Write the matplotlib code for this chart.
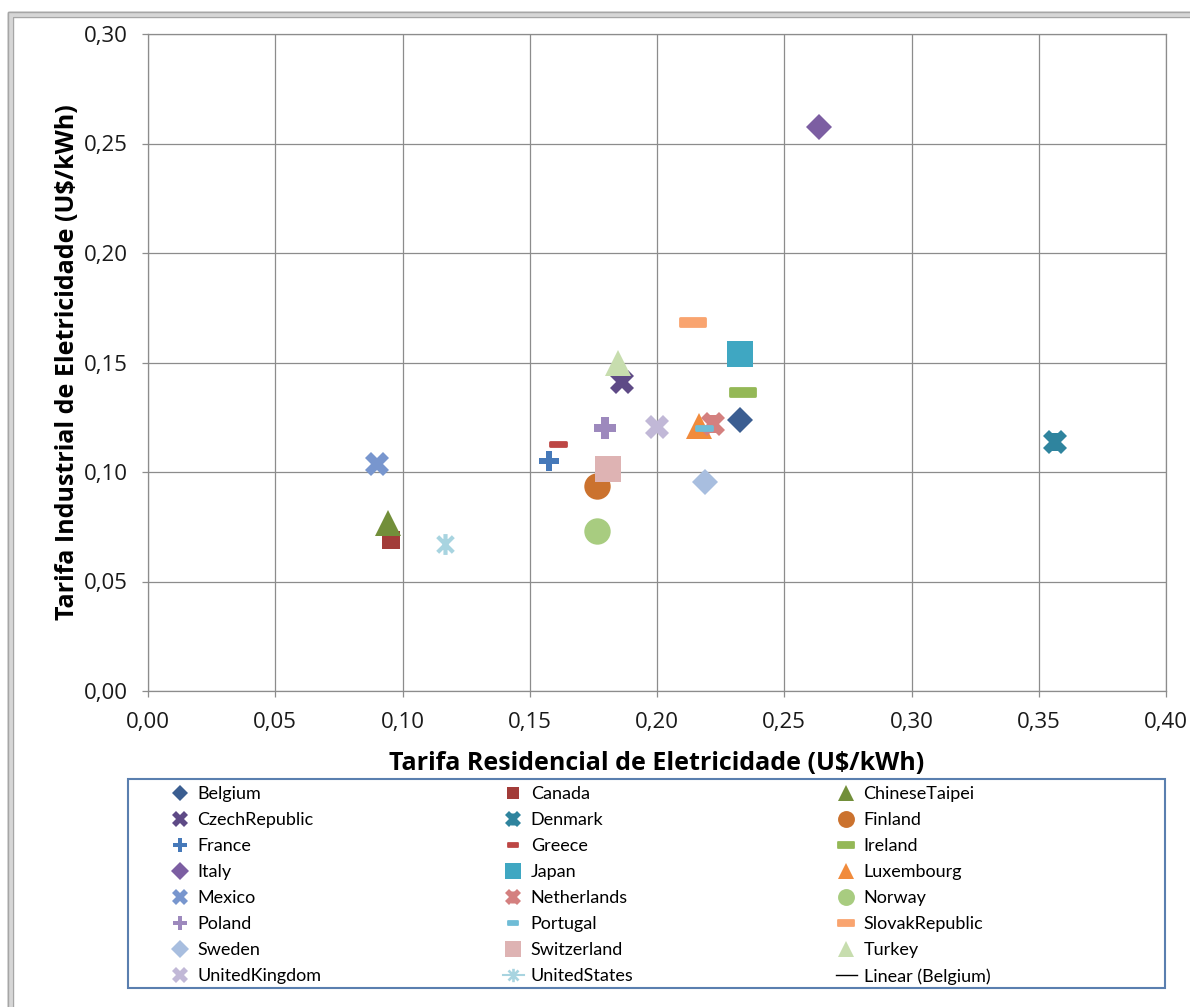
import matplotlib
matplotlib.use("Agg")
import matplotlib.pyplot as plt
from matplotlib.lines import Line2D
from matplotlib.patches import Rectangle
from matplotlib.path import Path

# tarifas por pais (residencial, industrial) em U$/kWh
countries = ["Belgium", "Canada", "ChineseTaipei", "CzechRepublic", "Denmark",
             "Finland", "France", "Greece", "Ireland", "Italy", "Japan",
             "Luxembourg", "Mexico", "Netherlands", "Norway", "Poland",
             "Portugal", "SlovakRepublic", "Sweden", "Switzerland", "Turkey",
             "UnitedKingdom", "UnitedStates"]
residencial = [0.2326, 0.0955, 0.0943, 0.1862, 0.3564, 0.1764, 0.1576, 0.1610,
               0.2334, 0.2637, 0.2326, 0.2165, 0.0900, 0.2220, 0.1764, 0.1796,
               0.2185, 0.2138, 0.2190, 0.1807, 0.1847, 0.2000, 0.1167]
industrial = [0.1237, 0.0690, 0.0767, 0.1410, 0.1137, 0.0936, 0.1050, 0.1130,
              0.1365, 0.2575, 0.1539, 0.1210, 0.1037, 0.1220, 0.0730, 0.1200,
              0.1200, 0.1685, 0.0954, 0.1014, 0.1500, 0.1205, 0.0670]

x_ticks = [0.0, 0.05, 0.10, 0.15, 0.20, 0.25, 0.30, 0.35, 0.40]
y_ticks = [0.0, 0.05, 0.10, 0.15, 0.20, 0.25, 0.30]

W, H = 1190, 1007

# marcadores no estilo do Excel
star = Path([(0, -1), (0, 1), (-0.75, -0.75), (0.75, 0.75), (-0.75, 0.75), (0.75, -0.75)],
            [Path.MOVETO, Path.LINETO, Path.MOVETO, Path.LINETO, Path.MOVETO, Path.LINETO])
dash = Path([(-1, -0.32), (1, -0.32), (1, 0.32), (-1, 0.32), (-1, -0.32)],
            [Path.MOVETO, Path.LINETO, Path.LINETO, Path.LINETO, Path.CLOSEPOLY])

# (cor, marcador, tamanho, espessura da borda); "xstar" = X cheio com barra vertical
estilos = {
    "Belgium": ("#3B5E91", "D", 13.5, 0),
    "Canada": ("#A23C39", "s", 13.5, 0),
    "ChineseTaipei": ("#728F3A", "^", 18.5, 0),
    "CzechRepublic": ("#5E4A86", "X", 17.5, 0),
    "Denmark": ("#2F849E", "xstar", 17, 0),
    "Finland": ("#CB722E", "o", 19, 0),
    "France": ("#4679B9", "P", 15, 0),
    "Greece": ("#BD4644", dash, 11, 2),
    "Ireland": ("#94B856", dash, 18, 2),
    "Italy": ("#7C5EA2", "D", 13.7, 0),
    "Japan": ("#3FA7C2", "s", 18.5, 0),
    "Luxembourg": ("#F18B3C", "^", 19, 0),
    "Mexico": ("#7896CE", "X", 17.5, 0),
    "Netherlands": ("#D4807F", "xstar", 17, 0),
    "Norway": ("#A8CC80", "o", 19, 0),
    "Poland": ("#9D89BD", "P", 15.5, 0),
    "Portugal": ("#6FBCD6", dash, 11, 2),
    "SlovakRepublic": ("#F9A46F", dash, 18, 2),
    "Sweden": ("#A8BEDF", "D", 13.7, 0),
    "Switzerland": ("#DEB3B3", "s", 18.5, 0),
    "Turkey": ("#C7DDAE", "^", 19, 0),
    "UnitedKingdom": ("#C1B8D7", "X", 17.5, 0),
    "UnitedStates": ("#A8D4E0", star, 15, 3),
}


def marker_kwargs(nome, scale=1.0):
    cor, mk, ms, mew = estilos[nome]
    if mk == "xstar":
        return [dict(marker="X", markersize=ms * scale, color=cor, markeredgewidth=0),
                dict(marker="|", markersize=ms * 0.78 * scale, color=cor,
                     markeredgewidth=5.5 * scale)]
    return [dict(marker=mk, markersize=ms * scale, color=cor, markerfacecolor=cor,
                 markeredgecolor=cor, markeredgewidth=mew * scale)]


fig = plt.figure(figsize=(W / 100, H / 100), dpi=100)
ax = fig.add_axes([148 / W, 1 - 691 / H, (1166 - 148) / W, (691 - 34) / H])

grid_color = "#8C8C8C"
for i, nome in enumerate(countries):
    for kw in marker_kwargs(nome):
        ax.plot([residencial[i]], [industrial[i]], linestyle="none",
                zorder=3 + i * 0.01, **kw)

ax.set_xlim(0, 0.40)
ax.set_ylim(0, 0.30)
ax.set_xticks(x_ticks)
ax.set_yticks(y_ticks)
ax.set_xticklabels([f"{v:.2f}".replace(".", ",") for v in x_ticks])
ax.set_yticklabels([f"{v:.2f}".replace(".", ",") for v in y_ticks])
ax.grid(True, color=grid_color, linewidth=0.9)
ax.set_axisbelow(True)
for s in ax.spines.values():
    s.set_color(grid_color)
    s.set_linewidth(0.9)
ax.tick_params(direction="out", length=4, color=grid_color, width=0.9,
               labelsize=16, labelcolor="#1A1A1A")
ax.tick_params(axis="x", pad=11)
ax.tick_params(axis="y", pad=10.5)
for lab in ax.get_xticklabels() + ax.get_yticklabels():
    lab.set_fontfamily("Open Sans")

ax.set_xlabel("Tarifa Residencial de Eletricidade (U$/kWh)", fontsize=18,
              fontweight="bold", family="Open Sans", labelpad=13)
ax.set_ylabel("Tarifa Industrial de Eletricidade (U$/kWh)", fontsize=18,
              fontweight="bold", family="Open Sans", labelpad=2.5)

# legenda: moldura e tres colunas, preenchidas por linhas como no Excel
handles = []
for nome in countries:
    kws = marker_kwargs(nome, 0.64)
    if nome == "UnitedStates":
        hs = [Line2D([], [], linewidth=1.5, **kws[0])]
    else:
        hs = [Line2D([], [], linestyle="none", **kw) for kw in kws]
    handles.append(tuple(hs) if len(hs) > 1 else hs[0])
handles.append(Line2D([], [], color="black", linewidth=1.0))
labels = countries + ["Linear (Belgium)"]

fig.add_artist(Rectangle((128 / W, 1 - 988 / H), (1165 - 128) / W, (988 - 779) / H,
                         transform=fig.transFigure, facecolor="white",
                         edgecolor="#5A7FAF", linewidth=1.5, zorder=5))
leg_font = {"family": "Lato", "size": 13}
col_x = [170, 503, 836]
for c in range(3):
    idx = list(range(c, len(labels), 3))
    leg = fig.legend([handles[i] for i in idx], [labels[i] for i in idx],
                     loc="upper left", bbox_to_anchor=(col_x[c] / W, 1 - 786 / H),
                     bbox_transform=fig.transFigure, prop=leg_font, frameon=False,
                     handlelength=1.15, handletextpad=0.38, labelspacing=0.555,
                     borderpad=0, borderaxespad=0)
    leg.set_zorder(6)

# moldura externa da area do grafico
fig.add_artist(Line2D([10 / W, 10 / W, 1.0], [0.0, 1 - 14 / H, 1 - 14 / H],
                      transform=fig.transFigure, color="#D6D6D6", linewidth=4))
fig.add_artist(Line2D([8 / W, 8 / W, 1.0], [0.0, 1 - 12 / H, 1 - 12 / H],
                      transform=fig.transFigure, color="#A6A6A6", linewidth=1))
fig.add_artist(Line2D([13 / W, 13 / W, 1.0], [0.0, 1 - 17 / H, 1 - 17 / H],
                      transform=fig.transFigure, color="#A6A6A6", linewidth=1))

fig.savefig("out.png", dpi=100)
